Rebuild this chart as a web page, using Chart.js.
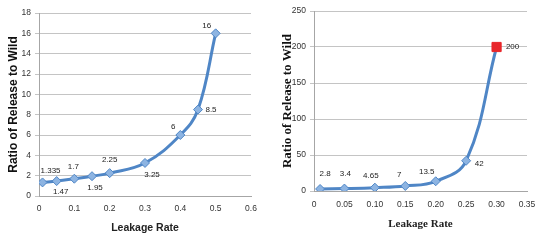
<!DOCTYPE html>
<html>
<head>
<meta charset="utf-8">
<script src="https://cdn.jsdelivr.net/npm/chart.js@4.4.1/dist/chart.umd.min.js"></script>
<style>
  html, body { margin: 0; padding: 0; background: #fff; }
  #wrap { position: relative; width: 551px; height: 244px; overflow: hidden; }
  canvas { position: absolute; top: 0; }
  #leftChart { left: 0; }
  #rightChart { left: 275px; }
</style>
</head>
<body>
<div id="wrap">
  <canvas id="leftChart" width="272" height="244"></canvas>
  <canvas id="rightChart" width="276" height="244"></canvas>
</div>
<script>
// Left panel data
const leftRates = [0.01, 0.05, 0.1, 0.15, 0.2, 0.3, 0.4, 0.45, 0.5];
const leftRatios = [1.335, 1.47, 1.7, 1.95, 2.25, 3.25, 6, 8.5, 16];
const leftXTicks = [0, 0.1, 0.2, 0.3, 0.4, 0.5, 0.6];
const leftYTicks = [0, 2, 4, 6, 8, 10, 12, 14, 16, 18];

// Right panel data
const rightRates = [0.01, 0.05, 0.1, 0.15, 0.2, 0.25, 0.3];
const rightRatios = [2.8, 3.4, 4.65, 7, 13.5, 42, 200];
const rightXTicks = [0, 0.05, 0.1, 0.15, 0.2, 0.25, 0.3, 0.35];
const rightYTicks = [0, 50, 100, 150, 200, 250];

// label offsets (px) relative to each marker
const leftLabelOffsets = [[8, -12], [4, 11], [-1, -12], [3, 12], [0, -13], [7, 12], [-7, -8], [13, 0], [-9, -8]];
const rightLabelOffsets = [[5, -15], [1, -15], [-4, -12], [-6, -11], [-9, -9], [13, 3], [16, 0]];

const sans = "'Liberation Sans', Arial, sans-serif";
const serif = "'Liberation Serif', 'Times New Roman', serif";
const lineBlue = '#4f86c6';
const markerBlue = '#8db4e2';

// draws the value labels next to the markers
const valueLabels = {
  id: 'valueLabels',
  afterDatasetsDraw(chart, args, opts) {
    const ctx = chart.ctx;
    const meta = chart.getDatasetMeta(0);
    const values = chart.data.datasets[0].data;
    ctx.save();
    ctx.font = '8px ' + sans;
    ctx.fillStyle = '#222';
    ctx.textAlign = 'center';
    ctx.textBaseline = 'middle';
    meta.data.forEach((pt, i) => {
      const off = opts.offsets[i] || [0, -10];
      ctx.fillText(String(values[i].y), pt.x + off[0], pt.y + off[1]);
    });
    ctx.restore();
  }
};

function makePanel(canvasId, rates, ratios, xTicks, yTicks, cfg) {
  const points = rates.map((r, i) => ({ x: r, y: ratios[i] }));
  const n = points.length;
  const isRed = (i) => cfg.redLast && i === n - 1;
  return new Chart(document.getElementById(canvasId), {
    type: 'scatter',
    data: {
      datasets: [{
        data: points,
        showLine: true,
        borderColor: lineBlue,
        borderWidth: 3,
        tension: 0.4,
        pointStyle: points.map((p, i) => isRed(i) ? 'rect' : 'rectRot'),
        pointRadius: points.map((p, i) => isRed(i) ? 6.5 : 4.5),
        pointBackgroundColor: points.map((p, i) => isRed(i) ? '#e8262b' : markerBlue),
        pointBorderColor: points.map((p, i) => isRed(i) ? '#e8262b' : lineBlue),
        pointBorderWidth: 1
      }]
    },
    options: {
      responsive: false,
      animation: false,
      devicePixelRatio: 1,
      layout: { padding: { left: 0, top: cfg.top, right: cfg.right, bottom: 0 } },
      plugins: {
        legend: { display: false },
        tooltip: { enabled: false },
        valueLabels: { offsets: cfg.offsets }
      },
      scales: {
        x: {
          type: 'linear',
          min: xTicks[0],
          max: xTicks[xTicks.length - 1],
          afterBuildTicks: (s) => { s.ticks = xTicks.map(v => ({ value: v })); },
          afterFit: (s) => { s.height = cfg.xHeight; },
          grid: { display: false, drawTicks: false },
          border: { display: true, color: '#a6a6a6', width: 1 },
          ticks: { color: '#333', font: { size: 8.5, family: sans }, padding: cfg.xTickPad, maxRotation: 0 },
          title: { display: true, text: 'Leakage Rate', color: '#222', font: cfg.xTitleFont, padding: { top: 0, bottom: cfg.xTitlePad } }
        },
        y: {
          type: 'linear',
          min: yTicks[0],
          max: yTicks[yTicks.length - 1],
          afterBuildTicks: (s) => { s.ticks = yTicks.map(v => ({ value: v })); },
          afterFit: (s) => { s.width = 39; },
          grid: { color: '#c4c4c4', lineWidth: 1, drawTicks: true, tickLength: 4 },
          border: { display: true, color: '#a6a6a6', width: 1 },
          ticks: { color: '#333', font: { size: 8.5, family: sans }, padding: 4 },
          title: { display: true, text: 'Ratio of Release to Wild', color: '#111', font: cfg.yTitleFont, padding: { top: cfg.yTitlePad, bottom: 0 } }
        }
      }
    },
    plugins: [valueLabels]
  });
}

makePanel('leftChart', leftRates, leftRatios, leftXTicks, leftYTicks, {
  top: 13, right: 21, xHeight: 48, xTickPad: 8, xTitlePad: 10, yTitlePad: 6,
  xTitleFont: { size: 10.5, weight: 'bold', family: sans },
  yTitleFont: { size: 12, weight: 'bold', family: sans },
  offsets: leftLabelOffsets, redLast: false
});

makePanel('rightChart', rightRates, rightRatios, rightXTicks, rightYTicks, {
  top: 11, right: 24, xHeight: 53, xTickPad: 9, xTitlePad: 13, yTitlePad: 5,
  xTitleFont: { size: 11, weight: 'bold', family: serif },
  yTitleFont: { size: 13, weight: 'bold', family: serif },
  offsets: rightLabelOffsets, redLast: true
});
</script>
</body>
</html>
